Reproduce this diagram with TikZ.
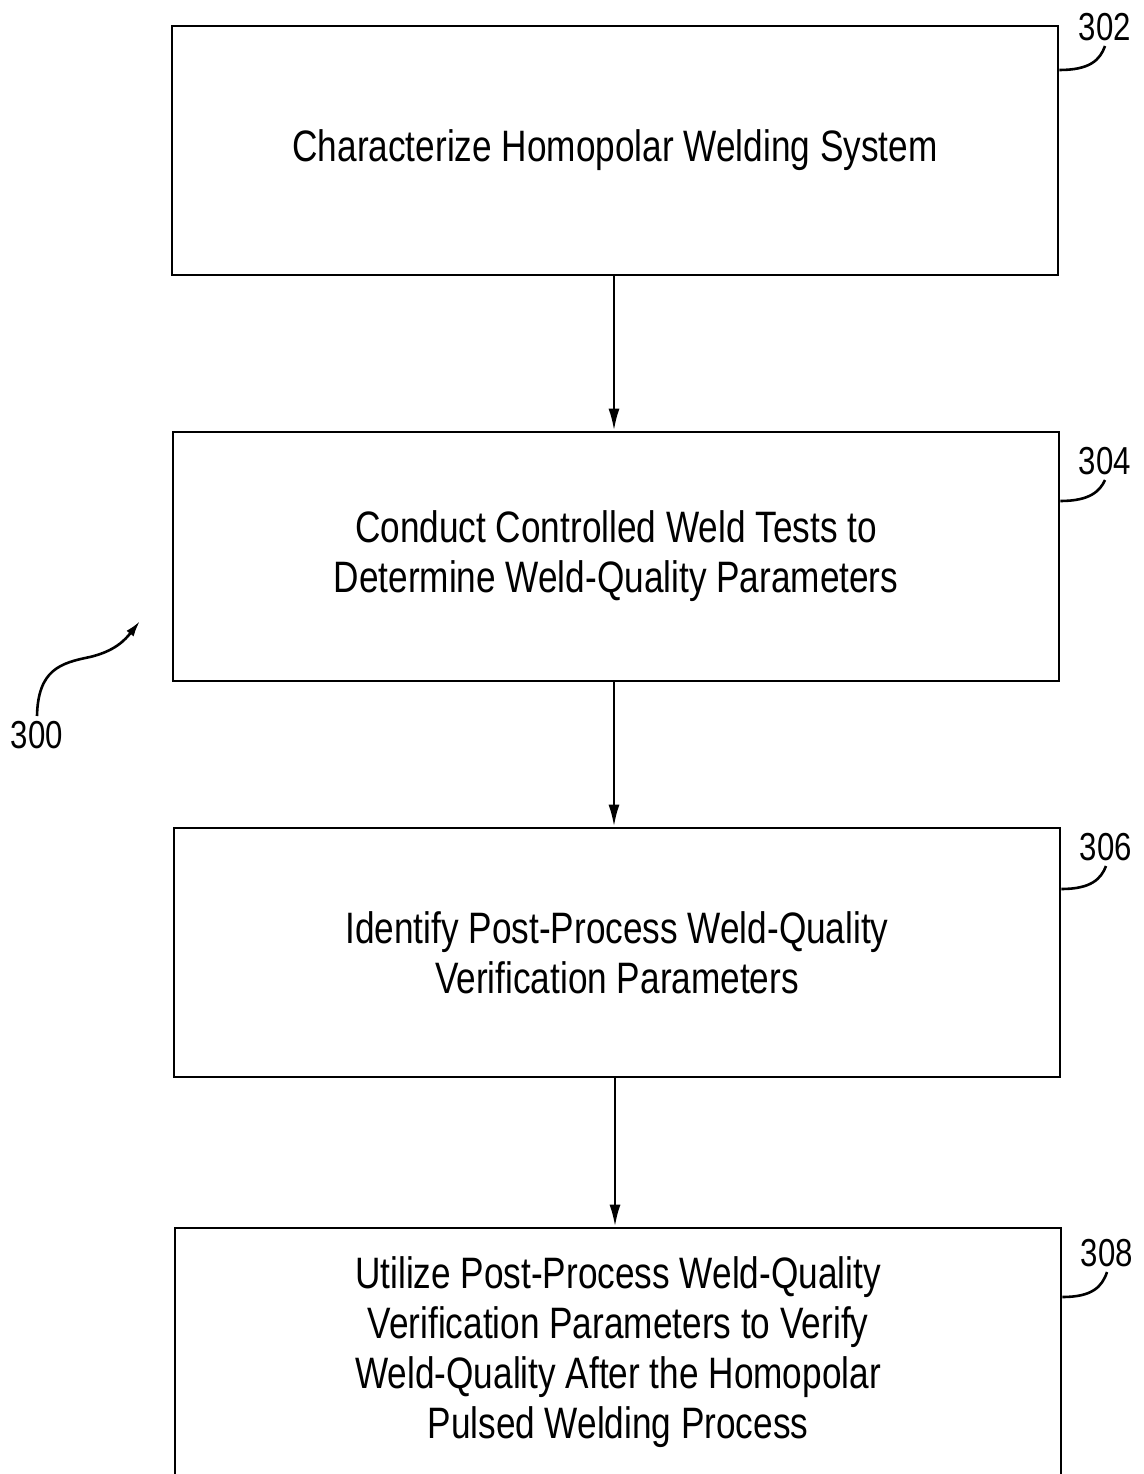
\documentclass[tikz,border=0pt]{standalone}
\usepackage{fontspec}
\setmainfont{Liberation Sans}[FakeStretch=0.8]
\usetikzlibrary{arrows.meta}
\begin{document}
\begin{tikzpicture}[x=1pt,y=-1pt,
  stepbox/.style={draw,line width=2.6pt,minimum width=886pt,minimum height=249pt,inner sep=0pt,align=center,
    font=\fontsize{44}{50}\selectfont},
  reflabel/.style={font=\fontsize{39}{39}\selectfont,inner sep=0pt},
  flow/.style={line width=2.6pt,-{Latex[length=22pt,width=11pt]}},
  leader/.style={line width=2.6pt}]
\useasboundingbox (0,0) rectangle (1143,1474);
\clip (0,0) rectangle (1143,1474);
\fill[white] (0,0) rectangle (1143,1474);
\node[stepbox] (b302) at (615,150.5) {Characterize Homopolar Welding System};
\node[stepbox] (b304) at (616,556.5) {Conduct Controlled Weld Tests to\\Determine Weld-Quality Parameters};
\node[stepbox] (b306) at (617,952.5) {Identify Post-Process Weld-Quality\\Verification Parameters};
\node[stepbox] (b308) at (618,1352.5) {Utilize Post-Process Weld-Quality\\Verification Parameters to Verify\\Weld-Quality After the Homopolar\\Pulsed Welding Process};
\draw[flow] (614,275) coordinate (a1) -- (a1 |- b304.north);
\draw[flow] (614,681) coordinate (a2) -- (a2 |- b306.north);
\draw[flow] (615,1077) coordinate (a3) -- (a3 |- b308.north);
\node[reflabel] (l302) at (1105,27) {302};
\node[reflabel] (l304) at (1105,461) {304};
\node[reflabel] (l306) at (1106,847) {306};
\node[reflabel] (l308) at (1107,1253) {308};
\node[reflabel] (l300) at (37,735) {300};
\draw[leader] (b302.east |- 0,70) .. controls (1090,70) and (1100,60) .. ([yshift=-5pt]l302.south);
\draw[leader] (b304.east |- 0,501) .. controls (1090,501) and (1100,491) .. ([yshift=-5pt]l304.south);
\draw[leader] (b306.east |- 0,889) .. controls (1091,889) and (1101,879) .. ([yshift=-5pt]l306.south);
\draw[leader] (b308.east |- 0,1297) .. controls (1092,1297) and (1102,1287) .. ([yshift=-5pt]l308.south);
\coordinate (t300) at (140,621);
\draw[line width=2.6pt,-{Latex[length=16pt,width=9pt]}] ([yshift=5pt]l300.north) .. controls (38,670) and (60,663) .. (90,657) .. controls (115,651) and (125,640) .. (t300);
\end{tikzpicture}
\end{document}
